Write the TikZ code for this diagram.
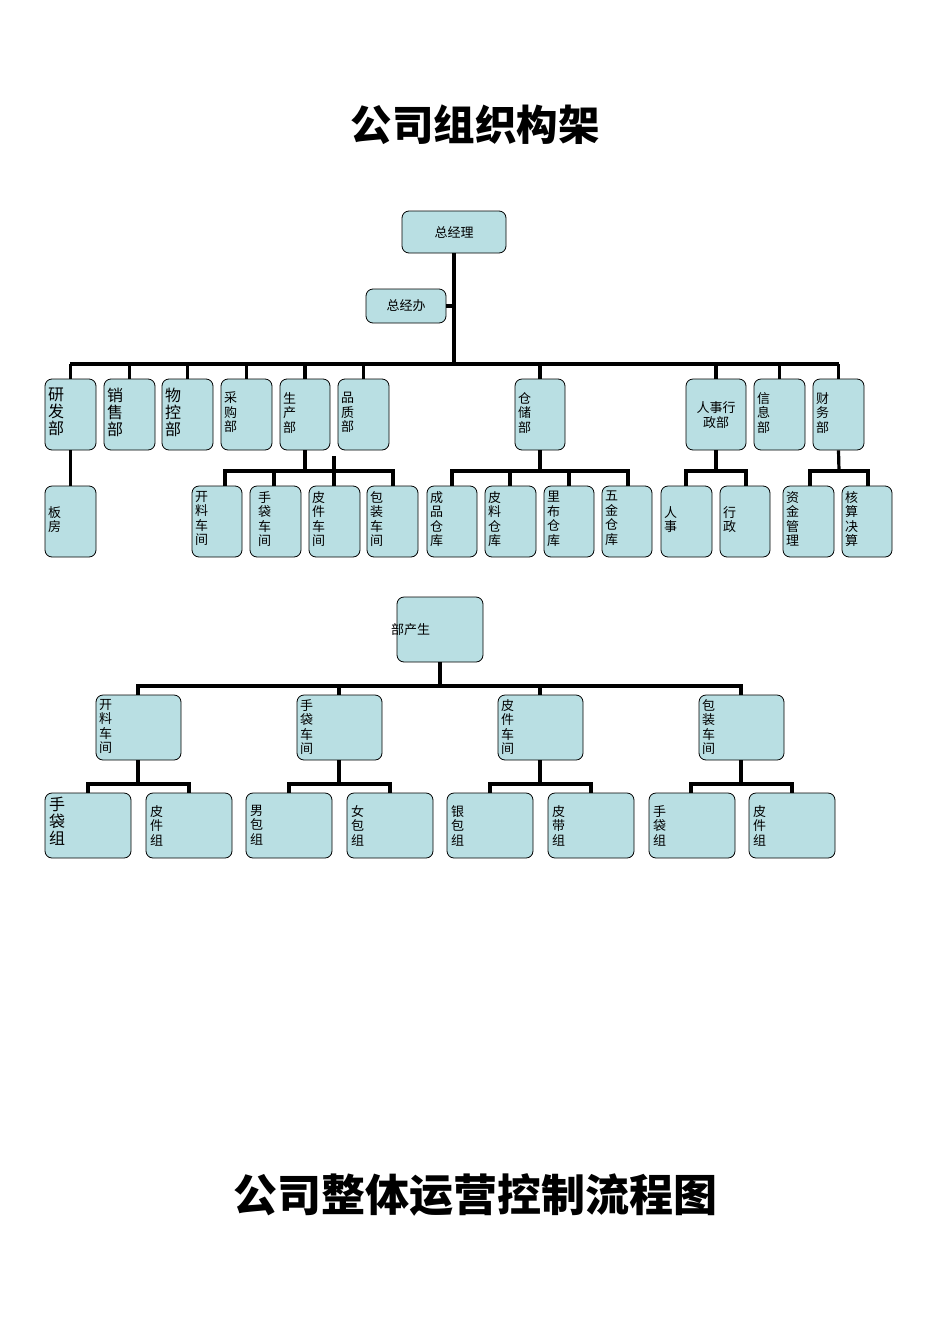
\documentclass[tikz,border=0pt]{standalone}
\usepackage{fontspec}
\newfontfamily\cjk{Noto Sans CJK SC}
\begin{document}
\begin{tikzpicture}[x=1pt,y=-1pt,
 box/.style={draw,fill=boxc,rounded corners=7pt,line width=0.8pt,inner sep=0pt},
 txt/.style={anchor=north west,align=left,inner sep=0pt,font=\cjk\fontsize{13}{14.5}\selectfont},
 bigt/.style={txt,font=\cjk\fontsize{16}{17}\selectfont},
 bus/.style={line width=3.2pt}]
\definecolor{boxc}{HTML}{B9DFE3}
\useasboundingbox (0,0) rectangle (950,1344);
\newcommand{\bx}[7]{%
 \node[box,minimum width=#4-#2,minimum height=#5-#3] (#1) at ({(#2+#4)/2},{(#3+#5)/2}) {};}
% titles
\node[font=\cjk\bfseries\fontsize{41.5}{44}\selectfont] (t1) at (475,125) {公司组织构架};
\node[font=\cjk\bfseries\fontsize{44}{46}\selectfont] (t2) at (475,1195) {公司整体运营控制流程图};
% top
\bx{gm}{402}{211}{506}{253}{}{}
\node[txt,anchor=center] (gmt) at (gm) {总经理};
\bx{go}{366}{289}{446}{323}{}{}
\node[txt,anchor=center] (got) at (go) {总经办};
\draw[bus] (gm.south) -- (454,364) coordinate (bj);
\draw[bus] (go.east) -- (454,306);
\draw[bus] (70,364) -- (839,364);
% row 1
\bx{yf}{45}{379}{96}{450}{}{}
\bx{xs}{104}{379}{155}{450}{}{}
\bx{wk}{162}{379}{213}{450}{}{}
\bx{cg}{221}{379}{272}{450}{}{}
\bx{sc}{280}{379}{330}{450}{}{}
\bx{pz}{338}{379}{389}{450}{}{}
\bx{cc}{515}{379}{565}{450}{}{}
\bx{rs}{686}{379}{746}{450}{}{}
\bx{xx}{754}{379}{805}{450}{}{}
\bx{cw}{813}{379}{864}{450}{}{}
\foreach \n in {yf,xs,wk,cg,sc,pz,cc,rs,xx,cw} \draw[bus] (\n.north) -- (\n.north |- 0,364);
\node[bigt] (yft) at (48,388) {研\\发\\部};
\node[bigt] (xst) at (107,388) {销\\售\\部};
\node[bigt] (wkt) at (165,388) {物\\控\\部};
\node[txt] (cgt) at (224,392) {采\\购\\部};
\node[txt] (sct) at (283,392) {生\\产\\部};
\node[txt] (pzt) at (341,392) {品\\质\\部};
\node[txt] (cct) at (518,392) {仓\\储\\部};
\node[txt,anchor=center,align=center] (rst) at (716,415) {人事行\\政部};
\node[txt] (xxt) at (757,392) {信\\息\\部};
\node[txt] (cwt) at (816,392) {财\\务\\部};
% row 2
\bx{bf}{45}{486}{96}{557}{}{}
\bx{kl}{192}{486}{242}{557}{}{}
\bx{sd}{250}{486}{301}{557}{}{}
\bx{pj}{309}{486}{360}{557}{}{}
\bx{bz}{367}{486}{418}{557}{}{}
\bx{cp}{427}{486}{477}{557}{}{}
\bx{pl}{485}{486}{536}{557}{}{}
\bx{lb}{544}{486}{594}{557}{}{}
\bx{wj}{602}{486}{652}{557}{}{}
\bx{rr}{661}{486}{712}{557}{}{}
\bx{xz}{720}{486}{770}{557}{}{}
\bx{zj}{783}{486}{834}{557}{}{}
\bx{hs}{842}{486}{892}{557}{}{}
\node[txt] (bft) at (48,506) {板\\房};
\node[txt] (klt) at (195,491) {开\\料\\车\\间};
\node[txt] (sdt) at (258,491) {手\\袋\\车\\间};
\node[txt] (pjt) at (312,491) {皮\\件\\车\\间};
\node[txt] (bzt) at (370,491) {包\\装\\车\\间};
\node[txt] (cpt) at (430,491) {成\\品\\仓\\库};
\node[txt] (plt) at (488,491) {皮\\料\\仓\\库};
\node[txt] (lbt) at (547,491) {里\\布\\仓\\库};
\node[txt] (wjt) at (605,491) {五\\金\\仓\\库};
\node[txt] (rrt) at (664,506) {人\\事};
\node[txt] (xzt) at (723,506) {行\\政};
\node[txt] (zjt) at (786,491) {资\\金\\管\\理};
\node[txt] (hst) at (845,491) {核\\算\\决\\算};
\draw[bus] (yf.south) -- (bf.north);
\draw[bus] (sc.south) -- (305,471);
\draw[bus] (225,486) -- (225,471) -- (393,471) -- (393,486);
\draw[bus] (sd.north -| 274,0) -- (274,471);
\draw[bus] (334,456) -- (pj.north -| 334,0);
\draw[bus] (cc.south) -- (540,471);
\draw[bus] (452,486) -- (452,471) -- (628,471) -- (628,486);
\draw[bus] (510,471) -- (510,486);
\draw[bus] (569,471) -- (569,486);
\draw[bus] (rs.south) -- (716,471);
\draw[bus] (686,486) -- (686,471) -- (746,471) -- (746,486);
\draw[bus] (cw.south) -- (839,471);
\draw[bus] (810,486) -- (810,471) -- (868,471) -- (868,486);
% lower chart
\bx{ps}{397}{597}{483}{662}{}{}
\node[txt] (pst) at (391,623) {部产生};
\draw[bus] (ps.south) -- (440,686);
\draw[bus] (138,695) -- (138,686) -- (741,686) -- (741,695);
\draw[bus] (339,686) -- (339,695);
\draw[bus] (540,686) -- (540,695);
\foreach \n/\a/\t in {ka/96/开\\料\\车\\间,sb/297/手\\袋\\车\\间,pb/498/皮\\件\\车\\间,bb/699/包\\装\\车\\间}{
 \bx{\n}{\a}{695}{\a+85}{760}{}{}
 \node[txt] (\n t) at (\a+3,699) {\t};
}
\foreach \c in {138,339,540,741}{
 \draw[bus] (\c,760) -- (\c,784);
 \draw[bus] (\c-50,793) -- (\c-50,784) -- (\c+51,784) -- (\c+51,793);
}
\bx{g1}{45}{793}{131}{858}{}{}
\node[bigt] (g1t) at (49,797) {手\\袋\\组};
\foreach \n/\a/\t in {g2/146/皮\\件\\组,g3/246/男\\包\\组,g4/347/女\\包\\组,g5/447/银\\包\\组,g6/548/皮\\带\\组,g7/649/手\\袋\\组,g8/749/皮\\件\\组}{
 \bx{\n}{\a}{793}{\a+86}{858}{}{}
 \node[txt] (\n t) at (\a+4,805) {\t};
}
\end{tikzpicture}
\end{document}
